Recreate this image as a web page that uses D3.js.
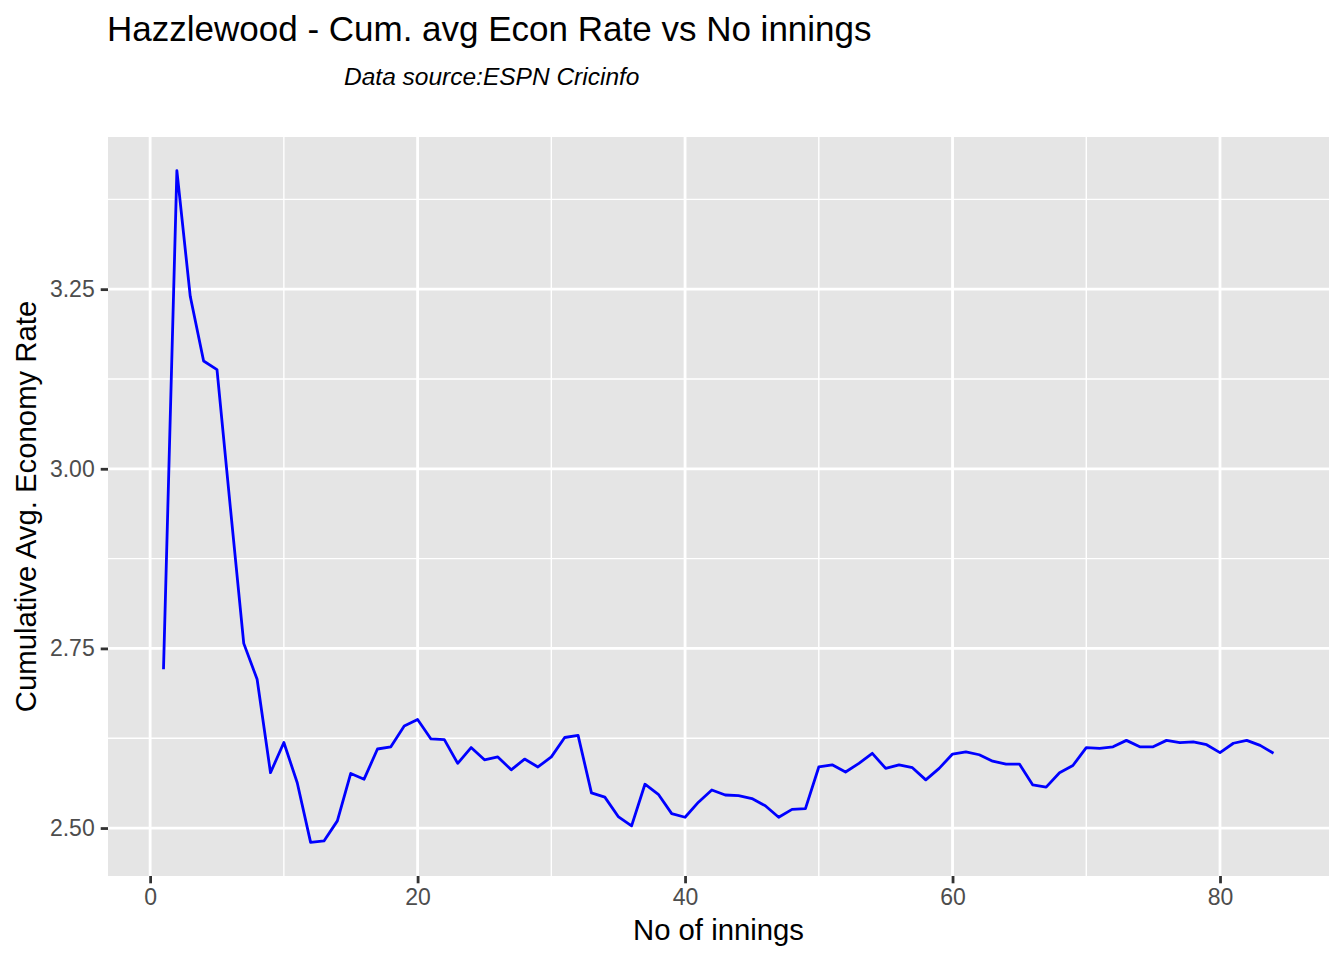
<!DOCTYPE html>
<html>
<head>
<meta charset="utf-8">
<script src="https://cdn.jsdelivr.net/npm/d3@7"></script>
<style>
  html, body { margin: 0; padding: 0; background: #fff; }
  svg { display: block; font-family: "Liberation Sans", Arial, Helvetica, sans-serif; }
</style>
</head>
<body>
<svg id="chart" width="1344" height="960"></svg>
<script>
// ---- data ----
const innings = [1,2,3,4,5,6,7,8,9,10,11,12,13,14,15,16,17,18,19,20,
  21,22,23,24,25,26,27,28,29,30,31,32,33,34,35,36,37,38,39,40,
  41,42,43,44,45,46,47,48,49,50,51,52,53,54,55,56,57,58,59,60,
  61,62,63,64,65,66,67,68,69,70,71,72,73,74,75,76,77,78,79,80,
  81,82,83,84];
const cumEconRate = [2.721,3.415,3.240,3.150,3.138,2.946,2.757,2.707,2.577,2.619,
  2.563,2.480,2.482,2.510,2.576,2.568,2.610,2.613,2.642,2.651,
  2.624,2.623,2.590,2.612,2.595,2.599,2.581,2.596,2.585,2.599,
  2.626,2.629,2.549,2.543,2.516,2.503,2.561,2.547,2.520,2.515,
  2.536,2.553,2.546,2.545,2.541,2.531,2.515,2.526,2.527,2.585,
  2.588,2.578,2.590,2.604,2.583,2.588,2.584,2.567,2.583,2.603,
  2.606,2.602,2.593,2.589,2.589,2.560,2.557,2.577,2.587,2.612,
  2.611,2.613,2.622,2.613,2.613,2.622,2.619,2.620,2.616,2.605,
  2.618,2.622,2.615,2.604];
const xMajorTicks = [0, 20, 40, 60, 80];
const xMinorTicks = [10, 30, 50, 70];
const yMajorTicks = [2.50, 2.75, 3.00, 3.25];
const yMinorTicks = [2.625, 2.875, 3.125, 3.375];
const titleText = "Hazzlewood - Cum. avg Econ Rate vs No innings";
const subtitleText = "Data source:ESPN Cricinfo";
const xTitle = "No of innings";
const yTitle = "Cumulative Avg. Economy Rate";

// ---- layout ----
const panel = { left: 108, right: 1329, top: 137, bottom: 876 };
const svg = d3.select("#chart");

function expand(ext) {
  const pad = (ext[1] - ext[0]) * 0.05;
  return [ext[0] - pad, ext[1] + pad];
}
const x = d3.scaleLinear().domain(expand(d3.extent(innings))).range([panel.left, panel.right]);
const y = d3.scaleLinear().domain(expand(d3.extent(cumEconRate))).range([panel.bottom, panel.top]);

// panel background
svg.append("rect")
  .attr("x", panel.left).attr("y", panel.top)
  .attr("width", panel.right - panel.left).attr("height", panel.bottom - panel.top)
  .attr("fill", "#E5E5E5");

const grid = svg.append("g");
// minor gridlines
grid.selectAll("line.ymin").data(yMinorTicks).enter().append("line")
  .attr("x1", panel.left).attr("x2", panel.right)
  .attr("y1", d => y(d)).attr("y2", d => y(d))
  .attr("stroke", "#FFFFFF").attr("stroke-width", 1.4);
grid.selectAll("line.xmin").data(xMinorTicks).enter().append("line")
  .attr("y1", panel.top).attr("y2", panel.bottom)
  .attr("x1", d => x(d)).attr("x2", d => x(d))
  .attr("stroke", "#FFFFFF").attr("stroke-width", 1.4);
// major gridlines
grid.selectAll("line.ymaj").data(yMajorTicks).enter().append("line")
  .attr("x1", panel.left).attr("x2", panel.right)
  .attr("y1", d => y(d)).attr("y2", d => y(d))
  .attr("stroke", "#fff").attr("stroke-width", 2.8);
grid.selectAll("line.xmaj").data(xMajorTicks).enter().append("line")
  .attr("y1", panel.top).attr("y2", panel.bottom)
  .attr("x1", d => x(d)).attr("x2", d => x(d))
  .attr("stroke", "#fff").attr("stroke-width", 2.8);

// line
const line = d3.line().x((d, i) => x(innings[i])).y(d => y(d));
svg.append("path")
  .datum(cumEconRate)
  .attr("d", line)
  .attr("fill", "none")
  .attr("stroke", "#0000FF")
  .attr("stroke-width", 2.8)
  .attr("stroke-linejoin", "round")
  .attr("stroke-linecap", "butt");

// axes
const xAxis = d3.axisBottom(x).tickValues(xMajorTicks).tickSize(7.3).tickPadding(5).tickFormat(d3.format("d"));
const gx = svg.append("g").attr("transform", `translate(0,${panel.bottom})`).call(xAxis);
gx.select(".domain").remove();
gx.selectAll(".tick line").attr("stroke", "#333333").attr("stroke-width", 2.8);
gx.selectAll(".tick text").attr("fill", "#4D4D4D").style("font-size", "23px")
  .style("font-family", "'Liberation Sans', Arial, sans-serif");

const yAxis = d3.axisLeft(y).tickValues(yMajorTicks).tickSize(7.3).tickPadding(6).tickFormat(d3.format(".2f"));
const gy = svg.append("g").attr("transform", `translate(${panel.left},0)`).call(yAxis);
gy.select(".domain").remove();
gy.selectAll(".tick line").attr("stroke", "#333333").attr("stroke-width", 2.8);
gy.selectAll(".tick text").attr("fill", "#4D4D4D").style("font-size", "23px")
  .style("font-family", "'Liberation Sans', Arial, sans-serif");

// titles
svg.append("text")
  .attr("x", 107).attr("y", 41)
  .attr("fill", "#000")
  .style("font-size", "35px")
  .text(titleText);
svg.append("text")
  .attr("x", 344).attr("y", 85)
  .attr("fill", "#000")
  .style("font-size", "24.5px")
  .style("font-style", "italic")
  .text(subtitleText);
svg.append("text")
  .attr("x", (panel.left + panel.right) / 2).attr("y", 940)
  .attr("text-anchor", "middle")
  .attr("fill", "#000")
  .style("font-size", "29.3px")
  .text(xTitle);
svg.append("text")
  .attr("transform", `translate(25,${(panel.top + panel.bottom) / 2}) rotate(-90)`)
  .attr("text-anchor", "middle")
  .attr("dominant-baseline", "central")
  .attr("fill", "#000")
  .style("font-size", "29.3px")
  .text(yTitle);
</script>
</body>
</html>
